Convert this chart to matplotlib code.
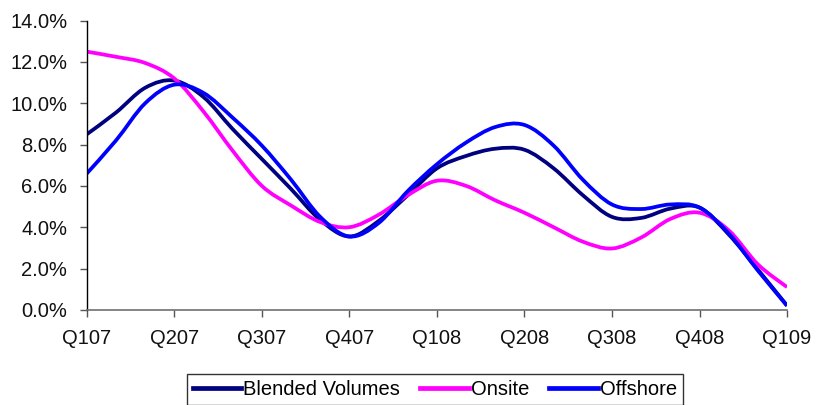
import matplotlib
matplotlib.use("Agg")
import matplotlib.pyplot as plt
import numpy as np
from matplotlib.lines import Line2D
from matplotlib.path import Path
from matplotlib.patches import PathPatch
from matplotlib.ticker import FuncFormatter

# Monthly growth readings, Q1'07 through Q1'09 (percent)
quarters = ["Q107", "Q207", "Q307", "Q407", "Q108", "Q208", "Q308", "Q408", "Q109"]
months = list(range(25))

blended = [8.5, 9.55, 10.75, 11.1, 10.3, 8.75, 7.3, 5.85, 4.35, 3.55, 4.3, 5.55, 6.85,
           7.45, 7.8, 7.75, 6.85, 5.55, 4.5, 4.45, 4.9, 4.95, 3.65, 1.95, 0.2]
onsite = [12.5, 12.25, 11.95, 11.2, 9.6, 7.7, 6.0, 5.05, 4.25, 4.0, 4.6, 5.55, 6.25,
          6.0, 5.3, 4.7, 4.0, 3.3, 2.97, 3.5, 4.4, 4.7, 3.85, 2.2, 1.1]
offshore = [6.6, 8.2, 10.0, 10.9, 10.5, 9.3, 7.95, 6.3, 4.5, 3.55, 4.2, 5.75, 7.05,
            8.1, 8.85, 8.95, 7.95, 6.3, 5.1, 4.88, 5.1, 4.95, 3.7, 1.9, 0.2]

series = [
    ("Blended Volumes", blended, "#000080"),
    ("Onsite", onsite, "#FF00FF"),
    ("Offshore", offshore, "#0000FF"),
]

plt.rcParams["font.family"] = ["Liberation Sans", "DejaVu Sans"]
plt.rcParams["font.size"] = 14.5


def smooth_path(xs, ys):
    """Spreadsheet-style smoothed line: cubic Bezier through every point."""
    pts = np.column_stack([xs, ys]).astype(float)
    verts = [pts[0]]
    codes = [Path.MOVETO]
    n = len(pts)
    for i in range(n - 1):
        p0 = pts[max(i - 1, 0)]
        p1 = pts[i]
        p2 = pts[i + 1]
        p3 = pts[min(i + 2, n - 1)]
        c1 = p1 + (p2 - p0) / 6.0
        c2 = p2 - (p3 - p1) / 6.0
        verts += [c1, c2, p2]
        codes += [Path.CURVE4] * 3
    return Path(verts, codes)


fig = plt.figure(figsize=(8.19, 4.05), dpi=100)
ax = fig.add_axes([0.106, 0.235, 0.855, 0.714])

lw = 2.7
handles = []
for label, vals, color in series:
    patch = PathPatch(smooth_path(months, vals), facecolor="none", edgecolor=color,
                      lw=lw, capstyle="butt", joinstyle="round")
    ax.add_patch(patch)
    handles.append(Line2D([], [], color=color, lw=3.4, label=label))

ax.set_xlim(0, 24)
ax.set_ylim(0, 14)
ax.set_xticks(range(0, 25, 3))
ax.set_xticklabels(quarters)
ax.set_yticks([0, 2, 4, 6, 8, 10, 12, 14])
ax.yaxis.set_major_formatter(FuncFormatter(lambda v, _: f"{v:.1f}%"))

for side in ("top", "right"):
    ax.spines[side].set_visible(False)
ax.spines["left"].set_color("black")
ax.spines["left"].set_linewidth(1.0)
ax.spines["bottom"].set_color("#707070")
ax.spines["bottom"].set_linewidth(1.2)
ax.tick_params(axis="y", direction="out", length=5, width=1, color="#555555", pad=9)
ax.tick_params(axis="x", direction="out", length=5, width=1, color="#555555", pad=9)
for lab in ax.get_xticklabels() + ax.get_yticklabels():
    lab.set_color("#111111")

leg = fig.legend(handles=handles, loc="lower center", bbox_to_anchor=(0.531, 0.0), ncol=3,
                 frameon=True, fancybox=False, edgecolor="black",
                 handlelength=2.4, handletextpad=0.1, columnspacing=1.0,
                 borderpad=0.3, borderaxespad=0)
leg.get_frame().set_linewidth(1.0)

fig.savefig("out.png", dpi=100)
